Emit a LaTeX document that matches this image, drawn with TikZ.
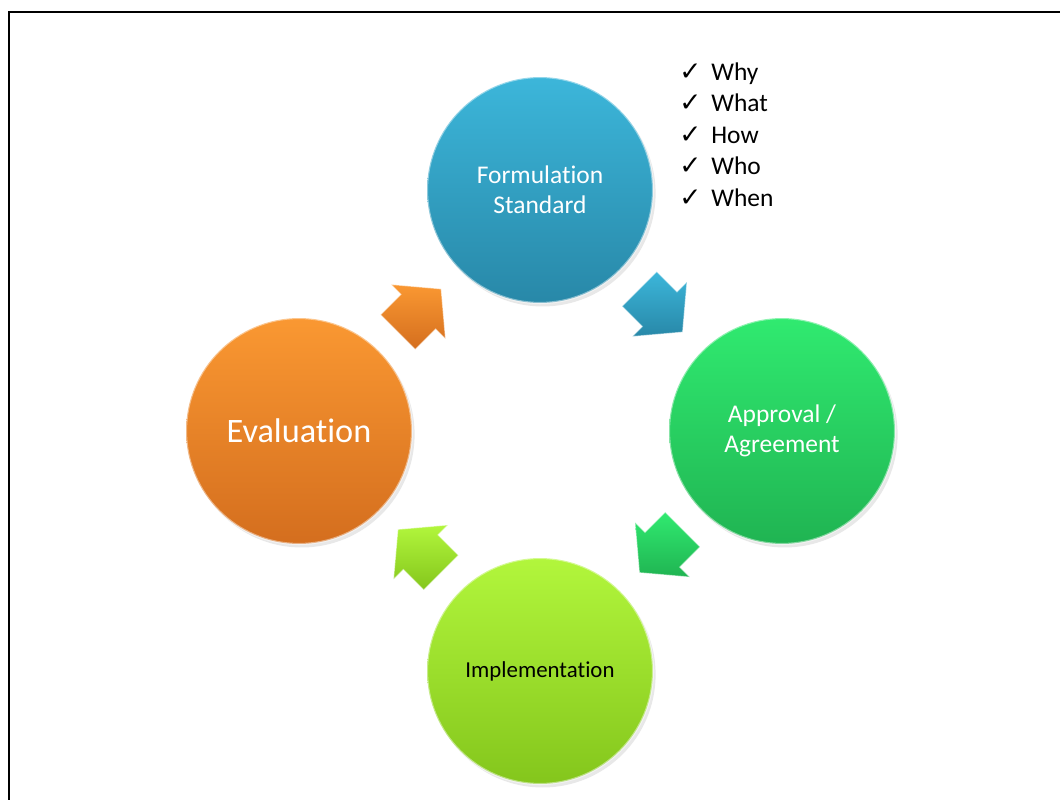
\documentclass[tikz,border=0pt]{standalone}
\usepackage{fontspec}
\setmainfont{Carlito}[Ligatures=NoCommon]
\newfontfamily\tickfont{DejaVu Sans}
\usetikzlibrary{calc,shapes.arrows,shadows}
\definecolor{formtop}{HTML}{3CB6DA}
\definecolor{formbottom}{HTML}{2888A8}
\definecolor{agreetop}{HTML}{30EA70}
\definecolor{agreebottom}{HTML}{20B452}
\definecolor{impltop}{HTML}{B2F63C}
\definecolor{implbottom}{HTML}{84C61C}
\definecolor{evaltop}{HTML}{FA9832}
\definecolor{evalbottom}{HTML}{D46E1E}
\newcommand{\tick}[1]{\makebox[0.64cm][l]{\tickfont\fontsize{15}{18}\selectfont ✓}#1}

\begin{document}
\begin{tikzpicture}[
  x=0.02cm,
  y=-0.02cm,
  stage/.style={circle, minimum size=4.52cm, inner sep=0pt, align=center,
    text=white, font=\fontsize{14.5}{17}\selectfont,
    draw=white, draw opacity=0.45, line width=1.2pt,
    drop shadow={opacity=0.18, shadow xshift=1.5pt, shadow yshift=-2pt}},
  turn/.style={single arrow, single arrow tip angle=100,
    single arrow head extend=0.28cm, inner xsep=0pt, inner ysep=0.48cm,
    minimum height=1.22cm, draw=white, draw opacity=0.5,
    line width=0.6pt},
  frame/.style={draw=black, line width=1.7pt}
]
\useasboundingbox (0,0) rectangle (1060,800);

% Page frame
\coordinate (framebl) at (9,800);
\coordinate (frametl) at (9,12);
\coordinate (frametr) at (1060,12);
\draw[frame] (framebl) -- (frametl) -- (frametr);

% The four stages
\node[stage, top color=formtop, bottom color=formbottom] (form) at (540,190)
      {Formulation\\Standard};
\node[stage, top color=agreetop, bottom color=agreebottom] (agree) at (782,431)
      {Approval /\\Agreement};
\node[stage, top color=impltop, bottom color=implbottom, text=black,
      font=\fontsize{13}{16}\selectfont] (impl) at (540,671)
      {Implementation};
\node[stage, top color=evaltop, bottom color=evalbottom,
      font=\fontsize{19.5}{23}\selectfont] (eval) at (299,431)
      {Evaluation};

% Turning arrows between the stages
\node[turn, top color=formtop, bottom color=formbottom, rotate=-45]
      (formtoagree) at ($(form)!0.47!(agree)$) {};
\node[turn, top color=agreetop, bottom color=agreebottom, rotate=-135]
      (agreetoimpl) at ($(agree)!0.47!(impl)$) {};
\node[turn, top color=impltop, bottom color=implbottom, rotate=135]
      (impltoeval) at ($(impl)!0.47!(eval)$) {};
\node[turn, top color=evaltop, bottom color=evalbottom, rotate=45]
      (evaltoform) at ($(eval)!0.47!(form)$) {};

% Questions of the standard
\node[anchor=north west, align=left, inner sep=0pt,
      font=\fontsize{14.5}{18}\selectfont] (questions) at (679,62)
      {\tick{Why}\\\tick{What}\\\tick{How}\\\tick{Who}\\\tick{When}};
\end{tikzpicture}
\end{document}
